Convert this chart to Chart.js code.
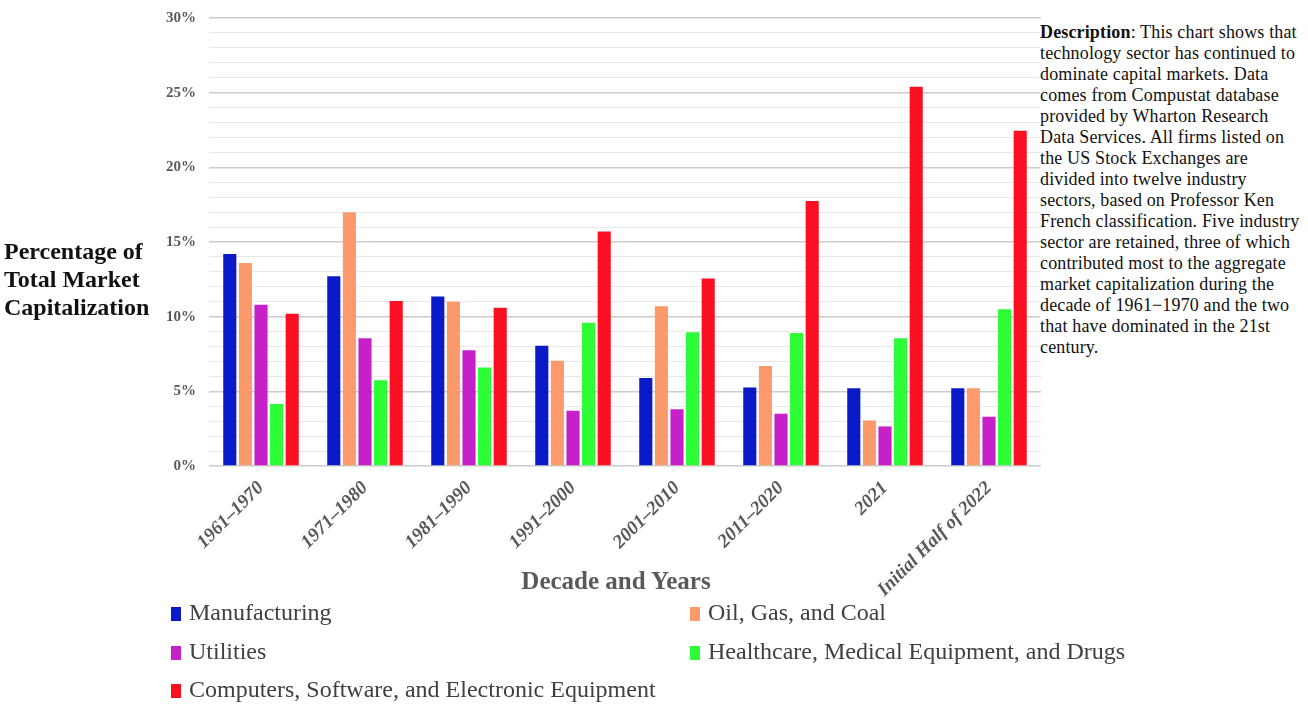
<!DOCTYPE html>
<html>
<head>
<meta charset="utf-8">
<script src="https://cdn.jsdelivr.net/npm/chart.js@4.4.0/dist/chart.umd.min.js"></script>
<style>
  body { margin: 0; background: #fff; width: 1308px; height: 704px; overflow: hidden; position: relative; font-family: "Liberation Serif", "Times New Roman", serif; }
  #wrap { position: absolute; left: 0; top: -4px; width: 1308px; height: 708px; }
  .ytitle { position: absolute; left: 4px; top: 237px; font-size: 24px; font-weight: bold; line-height: 28px; color: #111; }
  .xtitle { position: absolute; left: 0; width: 1232px; top: 567px; text-align: center; font-size: 25px; font-weight: bold; line-height: 28px; color: #595959; }
  .desc { position: absolute; left: 1040px; top: 22px; width: 268px; font-size: 18px; line-height: 21px; letter-spacing: 0.15px; color: #111; white-space: nowrap; background: #fff; }
  .legend { position: absolute; left: 171px; top: 593px; width: 1000px; display: grid; grid-template-columns: 519px 480px; font-size: 24px; line-height: 38.5px; color: #404040; }
  .legend span.box { display: inline-block; width: 10px; height: 14px; margin-right: 8px; vertical-align: -1px; }
</style>
</head>
<body>
<div id="wrap"><canvas id="barChart"></canvas></div>
<div class="ytitle">Percentage of<br>Total Market<br>Capitalization</div>
<div class="xtitle">Decade and Years</div>
<div class="desc"><b>Description</b>: This chart shows that<br>technology sector has continued to<br>dominate capital markets. Data<br>comes from Compustat database<br>provided by Wharton Research<br>Data Services. All firms listed on<br>the US Stock Exchanges are<br>divided into twelve industry<br>sectors, based on Professor Ken<br>French classification. Five industry<br>sector are retained, three of which<br>contributed most to the aggregate<br>market capitalization during the<br>decade of 1961−1970 and the two<br>that have dominated in the 21st<br>century.</div>
<div class="legend" id="legend"></div>
<script>
// decades / periods on the x axis
const periods = ['1961–1970', '1971–1980', '1981–1990', '1991–2000', '2001–2010', '2011–2020', '2021', 'Initial Half of 2022'];

// share of total market capitalization, in percent
const manufacturing = [14.2, 12.7, 11.35, 8.05, 5.9, 5.25, 5.2, 5.2];
const oilGasCoal    = [13.6, 17.0, 11.0, 7.05, 10.7, 6.7, 3.05, 5.2];
const utilities     = [10.8, 8.55, 7.75, 3.7, 3.8, 3.5, 2.65, 3.3];
const healthcare    = [4.15, 5.75, 6.6, 9.6, 8.95, 8.9, 8.55, 10.5];
const computers     = [10.2, 11.05, 10.6, 15.7, 12.55, 17.75, 25.4, 22.45];

const seriesNames = ['Manufacturing', 'Oil, Gas, and Coal', 'Utilities', 'Healthcare, Medical Equipment, and Drugs', 'Computers, Software, and Electronic Equipment'];
const seriesColors = ['#0a1ac6', '#fc9a6b', '#c820c8', '#2dfc36', '#fd0f22'];

const yTicks = [0, 5, 10, 15, 20, 25, 30];

const allSeries = [manufacturing, oilGasCoal, utilities, healthcare, computers];

const ctx = document.getElementById('barChart').getContext('2d');
const barChart = new Chart(ctx, {
    type: 'bar',
    data: {
        labels: periods,
        datasets: allSeries.map((vals, i) => ({
            label: seriesNames[i],
            data: vals,
            backgroundColor: seriesColors[i],
            borderWidth: 0,
            categoryPercentage: 0.75,
            barPercentage: 0.84
        }))
    },
    options: {
        responsive: true,
        maintainAspectRatio: false,
        animation: false,
        layout: { padding: { left: 159, right: 267, top: 14, bottom: 0 } },
        plugins: {
            legend: { display: false },
            tooltip: { enabled: false }
        },
        scales: {
            x: {
                grid: { display: false, drawTicks: false },
                border: { display: false },
                ticks: {
                    color: '#595959',
                    font: { family: 'Liberation Serif', size: 19, weight: 'bold', style: 'italic' },
                    minRotation: 45,
                    maxRotation: 45,
                    autoSkip: false,
                    padding: 11
                },
                afterFit: function(scale) { scale.height = 708 - 470; }
            },
            y: {
                min: 0,
                max: 30,
                grid: {
                    drawTicks: false,
                    color: c => (yTicks.includes(c.tick.value) ? '#cccccc' : '#e8e8e8'),
                    lineWidth: c => (yTicks.includes(c.tick.value) ? 1.5 : 1)
                },
                border: { display: false },
                ticks: {
                    stepSize: 1,
                    maxTicksLimit: 100,
                    autoSkip: false,
                    padding: 13,
                    color: '#595959',
                    font: { family: 'Liberation Serif', size: 15, weight: 'bold' },
                    callback: v => (yTicks.includes(v) ? v + '%' : '')
                },
                afterFit: function(scale) { scale.width = 50; }
            }
        }
    }
});

// legend in two columns, like the original
const legendEl = document.getElementById('legend');
seriesNames.forEach((name, i) => {
    const item = document.createElement('div');
    item.innerHTML = '<span class="box" style="background:' + seriesColors[i] + '"></span>' + name;
    legendEl.appendChild(item);
});
</script>
</body>
</html>
